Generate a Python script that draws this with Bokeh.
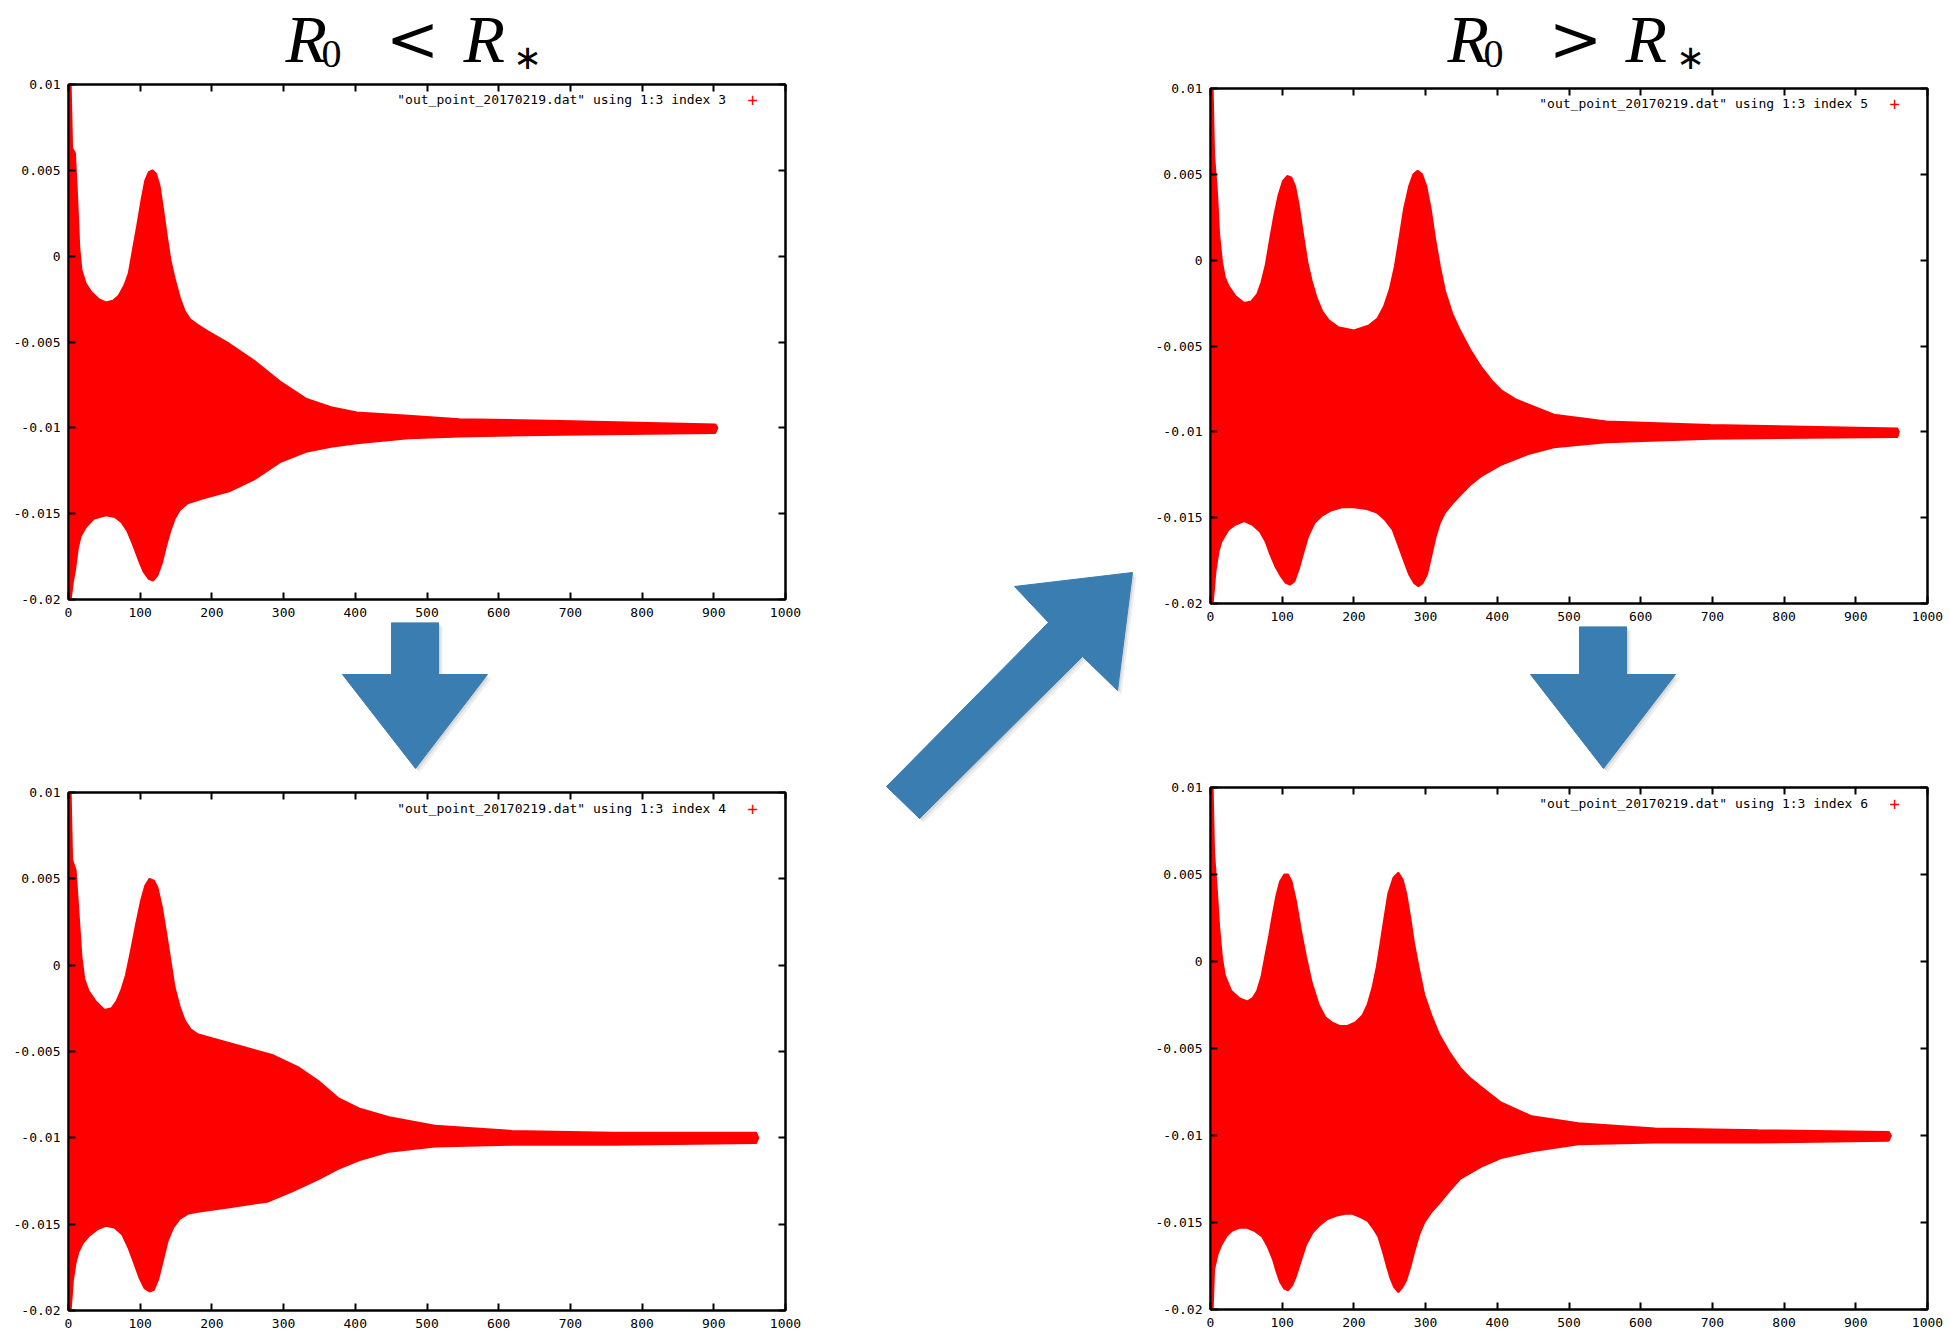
from bokeh.plotting import figure
from bokeh.layouts import row, column
from bokeh.models import Range1d, FixedTicker, LinearAxis, Label, CustomJSTickFormatter
from bokeh.core.properties import value
from bokeh.embed import file_html
from bokeh.resources import INLINE

# ---------------- data ----------------
x_ticks = [0, 100, 200, 300, 400, 500, 600, 700, 800, 900, 1000]
x_tick_labels = ["0", "100", "200", "300", "400", "500", "600", "700", "800", "900", "1000"]
y_ticks = [-0.02, -0.015, -0.01, -0.005, 0.0, 0.005, 0.01]
y_tick_labels = ["-0.02", "-0.015", "-0.01", "-0.005", "0", "0.005", "0.01"]

# index 3 (top left): upper / lower envelope of the '+' cloud
p1_up_x = [0, 3, 5, 9, 12, 15, 18, 24, 32, 42, 52, 62, 70, 78, 84, 90, 96, 102, 107, 112, 117, 122, 127, 132, 137, 142, 148, 155, 162, 170, 180, 195, 224, 259, 295, 331, 366, 402, 474, 545, 688, 902, 905]
p1_up_y = [0.0100, 0.0100, 0.0063, 0.0060, 0.0035, 0.0005, -0.0008, -0.0016, -0.0021, -0.0025, -0.0027, -0.0026, -0.0023, -0.0017, -0.0010, 0.0004, 0.0018, 0.0033, 0.0044, 0.0049, 0.0050, 0.0048, 0.0041, 0.0027, 0.0012, -0.0002, -0.0013, -0.0024, -0.0032, -0.0037, -0.0040, -0.0044, -0.0051, -0.0061, -0.0073, -0.0083, -0.0088, -0.0091, -0.0093, -0.0095, -0.0096, -0.0098, -0.0100]
p1_lo_x = [0, 3, 6, 9, 13, 17, 24, 35, 52, 65, 74, 82, 90, 98, 105, 112, 118, 124, 130, 136, 142, 148, 155, 166, 188, 224, 259, 295, 331, 366, 402, 474, 545, 688, 902]
p1_lo_y = [-0.0200, -0.0200, -0.0190, -0.0183, -0.0170, -0.0163, -0.0158, -0.0153, -0.0151, -0.0152, -0.0155, -0.0160, -0.0168, -0.0177, -0.0184, -0.0188, -0.0189, -0.0186, -0.0179, -0.0169, -0.0160, -0.0153, -0.0148, -0.0144, -0.0141, -0.0137, -0.0130, -0.0120, -0.0114, -0.0111, -0.0109, -0.0106, -0.0105, -0.0104, -0.0103]

# index 5 (top right)
p2_up_x = [0, 3, 5, 9, 12, 16, 20, 25, 35, 47, 57, 65, 71, 77, 83, 89, 95, 101, 107, 113, 118, 123, 129, 135, 141, 148, 156, 165, 178, 200, 221, 233, 242, 250, 257, 264, 270, 277, 283, 289, 295, 301, 307, 313, 320, 327, 337, 348, 362, 377, 392, 406, 425, 443, 479, 552, 697, 958, 960]
p2_up_y = [0.0100, 0.0100, 0.0061, 0.0040, 0.0015, -0.0001, -0.0010, -0.0015, -0.0021, -0.0025, -0.0024, -0.0020, -0.0013, -0.0003, 0.0012, 0.0026, 0.0038, 0.0046, 0.0049, 0.0048, 0.0043, 0.0032, 0.0015, -0.0001, -0.0012, -0.0022, -0.0030, -0.0035, -0.0039, -0.0041, -0.0038, -0.0034, -0.0027, -0.0017, -0.0004, 0.0014, 0.0030, 0.0043, 0.0050, 0.0052, 0.0050, 0.0043, 0.0030, 0.0013, -0.0004, -0.0018, -0.0031, -0.0041, -0.0052, -0.0062, -0.0070, -0.0076, -0.0081, -0.0084, -0.0090, -0.0094, -0.0096, -0.0098, -0.0100]
p2_lo_x = [0, 3, 7, 11, 15, 25, 35, 47, 58, 69, 77, 83, 90, 98, 105, 111, 117, 123, 129, 136, 145, 155, 167, 183, 200, 218, 232, 243, 254, 262, 269, 277, 284, 290, 296, 302, 308, 314, 320, 327, 337, 348, 362, 377, 406, 443, 479, 552, 697, 958]
p2_lo_y = [-0.0200, -0.0200, -0.0181, -0.0170, -0.0164, -0.0157, -0.0154, -0.0152, -0.0154, -0.0158, -0.0164, -0.0171, -0.0178, -0.0184, -0.0188, -0.0189, -0.0187, -0.0180, -0.0171, -0.0161, -0.0153, -0.0149, -0.0146, -0.0144, -0.0144, -0.0145, -0.0147, -0.0151, -0.0157, -0.0166, -0.0174, -0.0183, -0.0188, -0.0190, -0.0188, -0.0183, -0.0172, -0.0161, -0.0153, -0.0147, -0.0142, -0.0137, -0.0131, -0.0126, -0.0119, -0.0113, -0.0109, -0.0106, -0.0104, -0.0103]

# index 4 (bottom left)
p3_up_x = [0, 3, 5, 10, 14, 18, 22, 28, 38, 50, 60, 67, 74, 80, 87, 94, 101, 107, 113, 119, 124, 130, 136, 142, 148, 155, 162, 170, 180, 206, 249, 284, 320, 348, 376, 405, 447, 511, 618, 760, 959, 962]
p3_up_y = [0.0100, 0.0100, 0.0061, 0.0055, 0.0030, 0.0005, -0.0008, -0.0015, -0.0021, -0.0026, -0.0025, -0.0021, -0.0014, -0.0006, 0.0008, 0.0023, 0.0037, 0.0046, 0.0050, 0.0049, 0.0045, 0.0034, 0.0019, 0.0003, -0.0013, -0.0024, -0.0032, -0.0037, -0.0040, -0.0043, -0.0048, -0.0052, -0.0059, -0.0067, -0.0077, -0.0083, -0.0088, -0.0093, -0.0096, -0.0097, -0.0097, -0.0100]
p3_lo_x = [0, 3, 6, 10, 14, 20, 28, 40, 52, 64, 75, 84, 92, 99, 106, 113, 119, 125, 131, 138, 146, 155, 166, 178, 227, 277, 312, 348, 376, 405, 447, 511, 618, 760, 959]
p3_lo_y = [-0.0200, -0.0200, -0.0183, -0.0172, -0.0166, -0.0161, -0.0157, -0.0153, -0.0151, -0.0152, -0.0156, -0.0164, -0.0173, -0.0181, -0.0187, -0.0189, -0.0188, -0.0182, -0.0172, -0.0160, -0.0152, -0.0147, -0.0144, -0.0143, -0.0140, -0.0137, -0.0131, -0.0124, -0.0118, -0.0113, -0.0108, -0.0105, -0.0104, -0.0104, -0.0103]

# index 6 (bottom right)
p4_up_x = [0, 3, 5, 9, 12, 16, 20, 29, 40, 51, 59, 65, 71, 76, 82, 87, 92, 97, 103, 108, 113, 119, 126, 133, 141, 151, 160, 169, 180, 191, 202, 212, 219, 226, 232, 237, 243, 248, 255, 262, 268, 273, 279, 284, 291, 298, 308, 319, 333, 348, 362, 377, 405, 448, 513, 620, 764, 946, 949]
p4_up_y = [0.0100, 0.0100, 0.0062, 0.0040, 0.0020, 0.0002, -0.0008, -0.0017, -0.0021, -0.0023, -0.0021, -0.0017, -0.0009, 0.0002, 0.0015, 0.0027, 0.0038, 0.0046, 0.0050, 0.0050, 0.0046, 0.0035, 0.0018, 0.0003, -0.0012, -0.0025, -0.0032, -0.0035, -0.0037, -0.0037, -0.0035, -0.0031, -0.0025, -0.0015, -0.0003, 0.0010, 0.0026, 0.0039, 0.0048, 0.0051, 0.0047, 0.0039, 0.0024, 0.0010, -0.0005, -0.0019, -0.0031, -0.0042, -0.0052, -0.0061, -0.0067, -0.0072, -0.0081, -0.0089, -0.0093, -0.0096, -0.0097, -0.0098, -0.0100]
p4_lo_x = [0, 3, 5, 10, 15, 22, 29, 40, 51, 62, 72, 80, 87, 92, 97, 103, 108, 114, 119, 126, 133, 142, 151, 163, 176, 188, 198, 210, 219, 228, 234, 240, 246, 251, 256, 262, 268, 273, 279, 284, 291, 298, 308, 319, 333, 348, 377, 405, 448, 513, 620, 764, 946]
p4_lo_y = [-0.0200, -0.0200, -0.0177, -0.0168, -0.0163, -0.0158, -0.0155, -0.0153, -0.0153, -0.0155, -0.0158, -0.0164, -0.0171, -0.0178, -0.0184, -0.0188, -0.0189, -0.0186, -0.0181, -0.0172, -0.0163, -0.0156, -0.0152, -0.0148, -0.0146, -0.0145, -0.0145, -0.0147, -0.0149, -0.0154, -0.0158, -0.0166, -0.0175, -0.0182, -0.0187, -0.0190, -0.0187, -0.0183, -0.0175, -0.0167, -0.0157, -0.0150, -0.0144, -0.0139, -0.0132, -0.0125, -0.0118, -0.0113, -0.0109, -0.0105, -0.0104, -0.0104, -0.0103]

legend_texts = ['"out_point_20170219.dat" using 1:3 index 3',
                '"out_point_20170219.dat" using 1:3 index 5',
                '"out_point_20170219.dat" using 1:3 index 4',
                '"out_point_20170219.dat" using 1:3 index 6']

# ---------------- styling / layout constants ----------------
RED = "#ff0000"
BLUE = "#3a7db1"
TICK_FONT = "DejaVu Sans Mono"
LEFT_W, MID_W, RIGHT_W = 805, 345, 800
TITLE_H = 76
L_BL, L_BR = 68, 20      # left column frame borders (frames aligned within a column)
R_BL, R_BR = 60, 23      # right column frame borders


def make_panel(ux, uy, lx, ly, legend, width, height, bl, br, bt, bb):
    p = figure(width=width, height=height, x_range=Range1d(0, 1000), y_range=Range1d(-0.02, 0.01),
               output_backend="svg", toolbar_location=None, title=None,
               min_border_left=bl, min_border_right=br, min_border_top=bt, min_border_bottom=bb)
    p.grid.visible = False
    p.outline_line_color = "black"
    p.outline_line_width = 2
    p.background_fill_color = "white"
    p.border_fill_color = "white"
    px = list(ux) + list(reversed(lx))
    py = list(uy) + list(reversed(ly))
    p.patch(px, py, fill_color=RED, line_color=RED, line_width=2)

    p.add_layout(LinearAxis(), "above")
    p.add_layout(LinearAxis(), "right")
    for ax in p.xaxis:
        ax.ticker = FixedTicker(ticks=x_ticks)
        ax.major_label_overrides = dict(zip(x_ticks, x_tick_labels))
    for ax in p.yaxis:
        ax.ticker = FixedTicker(ticks=y_ticks)
        ax.major_label_overrides = dict(zip(y_ticks, y_tick_labels))
    for ax in p.axis:
        ax.axis_line_width = 2
        ax.axis_line_color = "black"
        ax.major_tick_in = 7
        ax.major_tick_out = 0
        ax.major_tick_line_width = 2
        ax.major_tick_line_color = "black"
        ax.minor_tick_line_color = None
        ax.major_label_text_font = TICK_FONT
        ax.major_label_text_font_size = "13px"
        ax.major_label_text_color = "black"
        ax.major_label_standoff = 8
    for ax in (p.above[0], p.right[0]):
        ax.formatter = CustomJSTickFormatter(code="return ''")
        ax.major_label_overrides = {}
        ax.major_label_text_font_size = "0px"
        ax.major_label_standoff = 0

    p.add_layout(Label(x=917, y=0.0091, text=legend, text_align="right", text_baseline="middle",
                       text_font=TICK_FONT, text_font_size="13px", text_color="black"))
    p.add_layout(Label(x=954, y=0.0091, text="+", text_align="center", text_baseline="middle",
                       text_font=TICK_FONT, text_font_size="17px", text_color=RED))
    return p


def blank(width, height, x0, x1, y0, y1, bl=0, br=0):
    p = figure(width=width, height=height, x_range=Range1d(x0, x1), y_range=Range1d(y1, y0),
               output_backend="svg", toolbar_location=None, title=None,
               x_axis_type=None, y_axis_type=None,
               min_border_left=bl, min_border_right=br, min_border_top=0, min_border_bottom=0)
    p.grid.visible = False
    p.outline_line_color = None
    p.background_fill_color = "white"
    p.border_fill_color = "white"
    return p


def title_pieces(p, xs, rel):
    # math-like title "R_0 (rel) R_*" built from pieces; y = vertical middle of each text box (page px)
    # xs: left of first R, left of subscript 0, centre of relation, left of second R, centre of asterisk
    p.text(x=[xs[0], xs[3]], y=[38, 38], text=["R", "R"], text_font=value("Liberation Serif"),
           text_font_style="italic", text_font_size="68px", text_baseline="middle",
           text_align="left", text_color="black")
    p.text(x=[xs[1]], y=[53.5], text=["0"], text_font=value("Liberation Serif"), text_font_size="40px",
           text_baseline="middle", text_align="left", text_color="black")
    p.text(x=[xs[2]], y=[38], text=[rel], text_font=value("DejaVu Serif"), text_font_size="64px",
           text_baseline="middle", text_align="center", text_color="black")
    p.text(x=[xs[4]], y=[56], text=["\u2217"], text_font=value("DejaVu Sans"), text_font_size="34px",
           text_baseline="middle", text_align="center", text_color="black")


def arrow(p, xs, ys):
    p.patch([x + 4 for x in xs], [y + 4 for y in ys], fill_color="#000000", fill_alpha=0.07, line_color=None)
    p.patch([x + 2 for x in xs], [y + 2 for y in ys], fill_color="#000000", fill_alpha=0.09, line_color=None)
    p.patch(xs, ys, fill_color=BLUE, line_color=BLUE, line_width=1)


# arrow outlines (page pixels)
down_x = [391, 438, 438, 487, 415, 342, 391]
down_y = [622, 622, 674, 674, 768, 674, 674]
diag_x = [886, 1048, 1014, 1132, 1117, 1082, 919]
diag_y = [786, 622, 586, 572, 690, 656, 818]
RIGHT_SHIFT = 1188

# ---------------- left column ----------------
t1 = blank(LEFT_W, TITLE_H, L_BL, LEFT_W - L_BR, 0, TITLE_H, L_BL, L_BR)
title_pieces(t1, [285, 321, 412, 463, 527], "<")
p1 = make_panel(p1_up_x, p1_up_y, p1_lo_x, p1_lo_y, legend_texts[0], LEFT_W, 546, L_BL, L_BR, 8, 23)
a1 = blank(LEFT_W, 160, L_BL, LEFT_W - L_BR, 622, 782, L_BL, L_BR)
arrow(a1, down_x, down_y)
p3 = make_panel(p3_up_x, p3_up_y, p3_lo_x, p3_lo_y, legend_texts[2], LEFT_W, 555, L_BL, L_BR, 10, 27)

# ---------------- middle column ----------------
m = blank(MID_W, 1337, LEFT_W, LEFT_W + MID_W, 0, 1337)
arrow(m, diag_x, diag_y)

# ---------------- right column ----------------
X0 = LEFT_W + MID_W
t2 = blank(RIGHT_W, TITLE_H, X0 + R_BL, X0 + RIGHT_W - R_BR, 0, TITLE_H, R_BL, R_BR)
title_pieces(t2, [1447, 1483, 1575, 1625, 1690], ">")
p2 = make_panel(p2_up_x, p2_up_y, p2_lo_x, p2_lo_y, legend_texts[1], RIGHT_W, 550, R_BL, R_BR, 12, 23)
a2 = blank(RIGHT_W, 151, X0 + R_BL, X0 + RIGHT_W - R_BR, 626, 777, R_BL, R_BR)
arrow(a2, [x + RIGHT_SHIFT for x in down_x], [y + 4 if y == 622 else y for y in down_y])
p4 = make_panel(p4_up_x, p4_up_y, p4_lo_x, p4_lo_y, legend_texts[3], RIGHT_W, 560, R_BL, R_BR, 10, 28)

layout = row(column(t1, p1, a1, p3, spacing=0), m, column(t2, p2, a2, p4, spacing=0), spacing=0)

open("out.html", "w").write(file_html(layout, INLINE))
